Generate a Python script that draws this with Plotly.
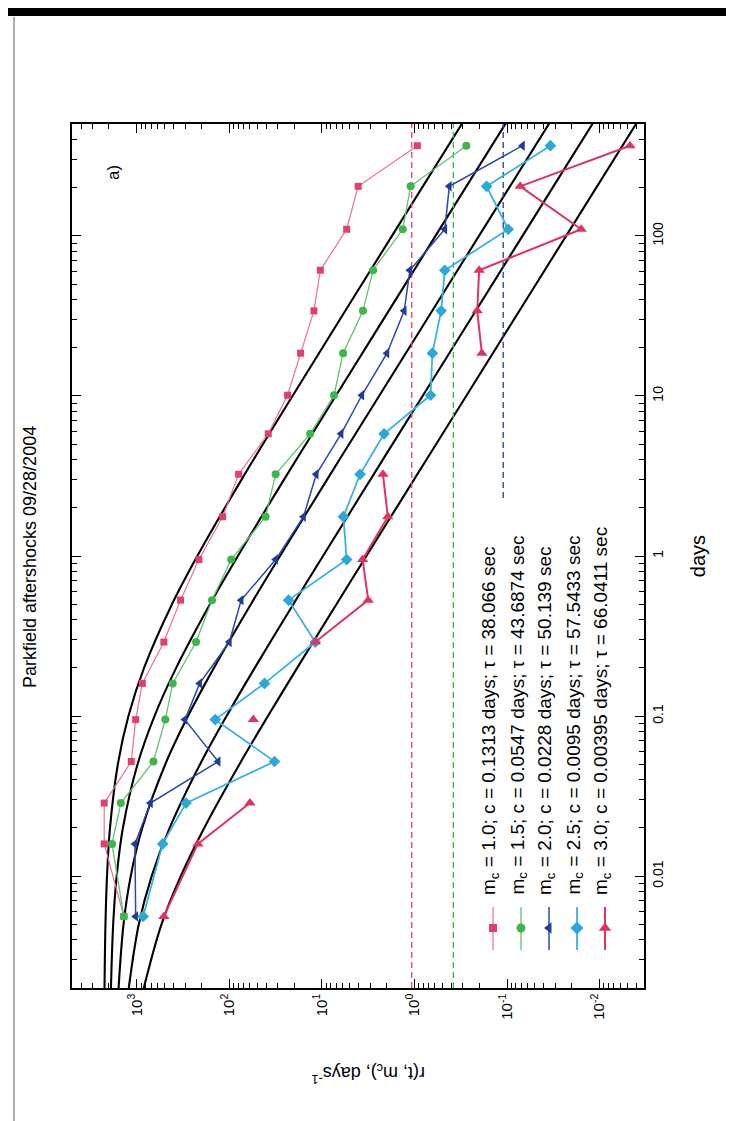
import plotly.graph_objects as go

# ---------------- data ----------------
days = [0.0056, 0.0159, 0.0286, 0.052, 0.095, 0.16, 0.29, 0.53, 0.95, 1.76,
        3.24, 5.8, 10.1, 18.5, 34, 61, 110, 204, 366]
rate_m10 = [1380, 2249, 2249, 1148, 1028, 871, 510, 337, 213, 118,
            79.4, 38, 23.5, 17, 12.2, 10.4, 5.4, 4.06, 0.93]
rate_m15 = [1380, 1853, 1486, 661, 492, 409, 229, 154, 95.5, 40.6,
            31.6, 13.4, 7.4, 5.9, 3.6, 2.8, 1.34, 1.1, 0.275]
rate_m20 = [1028, 1047, 711, 132, 302, 209, 100, 74.5, 31.6, 15.8,
            11.5, 6.2, 3.7, 1.98, 1.29, 1.12, 0.47, 0.42, 0.068]
rate_m25 = [855, 525, 294, 32.5, 142, 41.7, 11.8, 22.9, 5.4, 5.86,
            3.87, 2.13, 0.67, 0.64, 0.515, 0.47, 0.097, 0.166, 0.034]
rate_m30 = [510, 219, 60, None, 55, None, 11.8, 3.16, 3.63, 1.94,
            2.19, None, None, 0.187, 0.21, 0.2, 0.0158, 0.072, 0.0047]

# fitted model curves
model_days = [0.002, 0.005, 0.01, 0.02, 0.05, 0.1, 0.2, 0.5, 1, 3, 10, 100, 600]
model_m10 = [2233, 2180, 2097, 1948, 1602, 1231, 835, 416.4, 221.8, 73.84, 20.78, 1.750, 0.2530]
model_m15 = [1902, 1799, 1650, 1413, 980.9, 643.6, 375.5, 162.0, 80.93, 25.67, 7.090, 0.5927, 0.08564]
model_m20 = [1573, 1391, 1163, 873.0, 491.8, 279.6, 146.9, 58.49, 28.34, 8.794, 2.409, 0.2008, 0.02901]
model_m25 = [1221, 951.1, 690.6, 441.7, 207.0, 107.1, 53.17, 20.36, 9.729, 2.990, 0.8166, 0.06798, 0.009818]
model_m30 = [840.6, 540.9, 334.9, 186.8, 77.72, 38.27, 18.48, 6.958, 3.306, 1.012, 0.2759, 0.02296, 0.003317]

# background rate levels (dashed lines) and the day span of each
bg_rates = [1.07, 0.38, 0.11]
bg_start = [0.002, 0.002, 2.3]
bg_end = [500, 500, 500]

legend_labels = [
    "m<sub>c</sub> = 1.0; c = 0.1313 days; \u03c4 = 38.066 sec",
    "m<sub>c</sub> = 1.5; c = 0.0547 days; \u03c4 = 43.6874 sec",
    "m<sub>c</sub> = 2.0; c = 0.0228 days; \u03c4 = 50.139 sec",
    "m<sub>c</sub> = 2.5; c = 0.0095 days; \u03c4 = 57.5433 sec",
    "m<sub>c</sub> = 3.0; c = 0.00395 days; \u03c4 = 66.0411 sec",
]
rate_ticks = [1000, 100, 10, 1, 0.1, 0.01]
rate_ticktext = ["10<sup>3</sup>", "10<sup>2</sup>", "10<sup>1</sup>", "10<sup>0</sup>",
                 "10<sup>-1</sup>", "10<sup>-2</sup>"]
day_ticks = [0.01, 0.1, 1, 10, 100]
day_ticktext = ["0.01", "0.1", "1", "10", "100"]

# ---------------- styling ----------------
FIG_W, FIG_H = 734, 1121
L, R, T, B = 64, 636, 116, 980
PW, PH = R - L, B - T
FONT = "Liberation Sans, Arial, sans-serif"


def px(x):
    return (x - L) / PW


def py(y):
    return (B - y) / PH


series = [
    dict(r=rate_m10, model=model_m10, color="#E2406A", line="#EA7090", lw=1.2,
         sym="square", size=7),
    dict(r=rate_m15, model=model_m15, color="#3DB64C", line="#62C271", lw=1.3,
         sym="circle", size=8),
    dict(r=rate_m20, model=model_m20, color="#1F3C9E", line="#2A4AA8", lw=1.5,
         sym="triangle-left", size=9),
    dict(r=rate_m25, model=model_m25, color="#2AA9D9", line="#3BB2DE", lw=1.8,
         sym="diamond", size=9),
    dict(r=rate_m30, model=model_m30, color="#E03362", line="#E03362", lw=2.0,
         sym="triangle-up", size=10),
]

fig = go.Figure()

# model curves (black)
for s in series:
    fig.add_trace(go.Scatter(x=s["model"], y=model_days, mode="lines",
                             line=dict(color="black", width=2.1, shape="spline"),
                             showlegend=False, hoverinfo="skip"))

# background dashed lines
for rv, t0, t1, col in zip(bg_rates, bg_start, bg_end, ["#E2406A", "#3DB64C", "#1F3C9E"]):
    fig.add_trace(go.Scatter(x=[rv, rv], y=[t0, t1], mode="lines",
                             line=dict(color=col, width=1.3, dash="6px,4px"),
                             showlegend=False, hoverinfo="skip"))

# data series
for s in series:
    fig.add_trace(go.Scatter(x=s["r"], y=days, mode="lines+markers",
                             line=dict(color=s["line"], width=s["lw"]),
                             marker=dict(symbol=s["sym"], size=s["size"], color=s["color"],
                                         line=dict(width=0)),
                             connectgaps=False, showlegend=False))

# legend (drawn rotated, as in the picture) on a pixel-based overlay axis
leg_x = [485, 513, 541, 569, 597]
for s, lx, lab in zip(series, leg_x, legend_labels):
    fig.add_trace(go.Scatter(x=[lx, lx], y=[899, 942], xaxis="x2", yaxis="y2",
                             mode="lines", line=dict(color=s["line"], width=s["lw"]),
                             showlegend=False, hoverinfo="skip"))
    fig.add_trace(go.Scatter(x=[lx], y=[920], xaxis="x2", yaxis="y2", mode="markers",
                             marker=dict(symbol=s["sym"], size=s["size"] + 1, color=s["color"]),
                             showlegend=False, hoverinfo="skip"))
    fig.add_annotation(x=px(lx - 3), y=py(889), xref="paper", yref="paper", text=lab,
                       textangle=-90, showarrow=False, xanchor="center", yanchor="bottom",
                       font=dict(family=FONT, size=19, color="black"))

minor_rate = [m * 10 ** e for e in range(-3, 4) for m in range(2, 10)]
minor_days = [m * 10 ** e for e in range(-3, 3) for m in range(2, 10)]

axis_common = dict(showline=True, linecolor="black", linewidth=1.5, mirror="ticks",
                   ticks="inside", ticklen=9, tickwidth=1.3, tickcolor="black",
                   showgrid=False, zeroline=False)

xaxis = dict(type="log", range=[3.70, -2.48], tickvals=rate_ticks, ticktext=rate_ticktext,
             tickangle=-90, tickfont=dict(size=15),
             minor=dict(tickvals=minor_rate, ticks="inside", ticklen=5, tickcolor="black",
                        tickwidth=1.1, showgrid=False),
             **axis_common)
yaxis = dict(type="log", range=[-2.699, 2.699], side="right", tickvals=day_ticks,
             ticktext=day_ticktext, tickangle=-90, tickfont=dict(size=14),
             minor=dict(tickvals=minor_days, ticks="inside", ticklen=5, tickcolor="black",
                        tickwidth=1.1, showgrid=False),
             title=dict(text="days", font=dict(size=20), standoff=26),
             **axis_common)

fig.update_layout(
    width=FIG_W, height=FIG_H,
    margin=dict(l=L, r=FIG_W - R, t=T, b=FIG_H - B),
    paper_bgcolor="white", plot_bgcolor="white",
    font=dict(family=FONT, color="black"),
    showlegend=False,
    xaxis=xaxis, yaxis=yaxis,
    xaxis2=dict(overlaying="x", range=[L, R], visible=False, fixedrange=True),
    yaxis2=dict(overlaying="y", range=[B, T], visible=False, fixedrange=True),
)
try:
    fig.update_layout(xaxis_ticklabelstandoff=-2)
except Exception:
    pass

# title, panel label, rotated axis title
fig.add_annotation(x=px(22), y=py(549), xref="paper", yref="paper",
                   text="Parkfield aftershocks 09/28/2004", textangle=-90, showarrow=False,
                   xanchor="center", yanchor="middle", font=dict(family=FONT, size=18))
fig.add_annotation(x=px(106), y=py(165), xref="paper", yref="paper", text="a)",
                   textangle=-90, showarrow=False, xanchor="center", yanchor="middle",
                   font=dict(family=FONT, size=17))
fig.add_annotation(x=px(360), y=py(1066), xref="paper", yref="paper",
                   text="r(t, m<sub>c</sub>), days<sup>-1</sup>", textangle=180,
                   showarrow=False, xanchor="center", yanchor="middle",
                   font=dict(family=FONT, size=18))

# scanned-page frame
fig.add_shape(type="rect", xref="paper", yref="paper", x0=px(0), x1=px(734), y0=py(0),
              y1=py(8), fillcolor="black", line=dict(width=0), layer="above")
fig.add_shape(type="rect", xref="paper", yref="paper", x0=px(727), x1=px(734), y0=py(0),
              y1=py(1121), fillcolor="black", line=dict(width=0), layer="above")
fig.add_shape(type="line", xref="paper", yref="paper", x0=px(6), x1=px(6), y0=py(9),
              y1=py(1117), line=dict(color="#777777", width=1.2))
fig.add_shape(type="line", xref="paper", yref="paper", x0=px(6), x1=px(727), y0=py(1117),
              y1=py(1117), line=dict(color="#B09098", width=1.5))

fig.write_html("out.html")
